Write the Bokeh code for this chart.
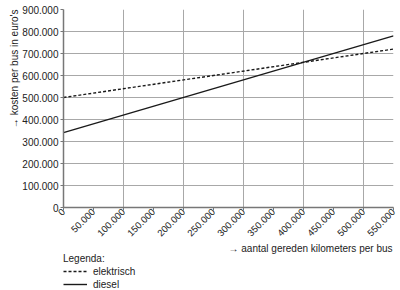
import math
from bokeh.plotting import figure
from bokeh.layouts import column
from bokeh.models import Range1d, FixedTicker, Title, Legend, LegendItem, Label
from bokeh.embed import file_html
from bokeh.resources import INLINE

# data
km = [0, 550000]
elektrisch = [500000, 720000]
diesel = [340000, 780000]

x_ticks = list(range(0, 550001, 50000))
x_grid = list(range(0, 550001, 100000))
y_ticks = list(range(0, 900001, 100000))

def nl(v):
    return f"{v:,}".replace(",", ".")

FONT = "Liberation Sans"
TXT = "#222222"
LINE = "#1a1a1a"

p = figure(width=400, height=242, output_backend="svg", toolbar_location=None,
           x_range=Range1d(0, 550000), y_range=Range1d(0, 900000),
           min_border_left=63, min_border_right=7, min_border_top=9, min_border_bottom=35)
p.outline_line_color = None

# axes
p.xaxis.ticker = FixedTicker(ticks=x_ticks)
p.xaxis.major_label_overrides = {v: nl(v) for v in x_ticks}
p.xaxis.major_label_orientation = math.pi / 4
p.yaxis.ticker = FixedTicker(ticks=y_ticks)
p.yaxis.major_label_overrides = {v: nl(v) for v in y_ticks}
for ax in (p.xaxis[0], p.yaxis[0]):
    ax.axis_line_color = "#777777"
    ax.axis_line_width = 1.5
    ax.major_tick_line_color = "#777777"
    ax.major_tick_in = 0
    ax.major_tick_out = 3
    ax.minor_tick_line_color = None
    ax.major_label_text_font = FONT
    ax.major_label_text_color = TXT
p.yaxis.major_label_text_font_size = "10px"
p.yaxis.major_label_standoff = 2
p.xaxis.major_label_text_font_size = "9.5px"
p.xaxis.major_label_standoff = 0

p.xgrid.ticker = FixedTicker(ticks=x_grid)
p.ygrid.ticker = FixedTicker(ticks=y_ticks)
p.xgrid.grid_line_color = "#a8a8a8"
p.ygrid.grid_line_color = "#a8a8a8"

p.line(km, elektrisch, line_color=LINE, line_width=1.4, line_dash="3 2")
p.line(km, diesel, line_color=LINE, line_width=1.4)

p.add_layout(Title(text="\u2192 kosten per bus in euro's", align="right",
                   text_font=FONT, text_font_size="10px", text_font_style="normal",
                   text_color=TXT, standoff=0, offset=0), "left")

# lower strip: x-axis label and legend (its frame is aligned with the plot frame above)
p2 = figure(width=400, height=48, output_backend="svg", toolbar_location=None,
            x_range=Range1d(0, 1), y_range=Range1d(-2, -1),
            x_axis_location=None, y_axis_location=None,
            min_border_left=63, min_border_right=7, min_border_top=0, min_border_bottom=0)
p2.outline_line_color = None
p2.grid.visible = False

p2.add_layout(Label(x=329, y=42, x_units="screen", y_units="screen",
                    text="\u2192 aantal gereden kilometers per bus",
                    text_align="right", text_baseline="middle",
                    text_font=FONT, text_font_size="10px", text_color=TXT))

# same series, drawn outside this strip's view; only their legend samples show
l_el = p2.line(km, elektrisch, line_color=LINE, line_width=1.4, line_dash="3 2")
l_di = p2.line(km, diesel, line_color=LINE, line_width=1.4)

legend = Legend(items=[LegendItem(label="elektrisch", renderers=[l_el]),
                       LegendItem(label="diesel", renderers=[l_di])],
                location=(0, 0), title="Legenda:",
                title_text_font=FONT, title_text_font_size="10px", title_text_font_style="normal",
                title_text_color=TXT,
                label_text_font=FONT, label_text_font_size="10px", label_text_color=TXT,
                glyph_width=24, glyph_height=12, label_height=12, label_standoff=6,
                spacing=1, padding=0, margin=0, title_standoff=1,
                border_line_color=None, background_fill_alpha=0)
p2.add_layout(legend, "center")

open("out.html", "w").write(file_html(column(p, p2, spacing=0), INLINE))
